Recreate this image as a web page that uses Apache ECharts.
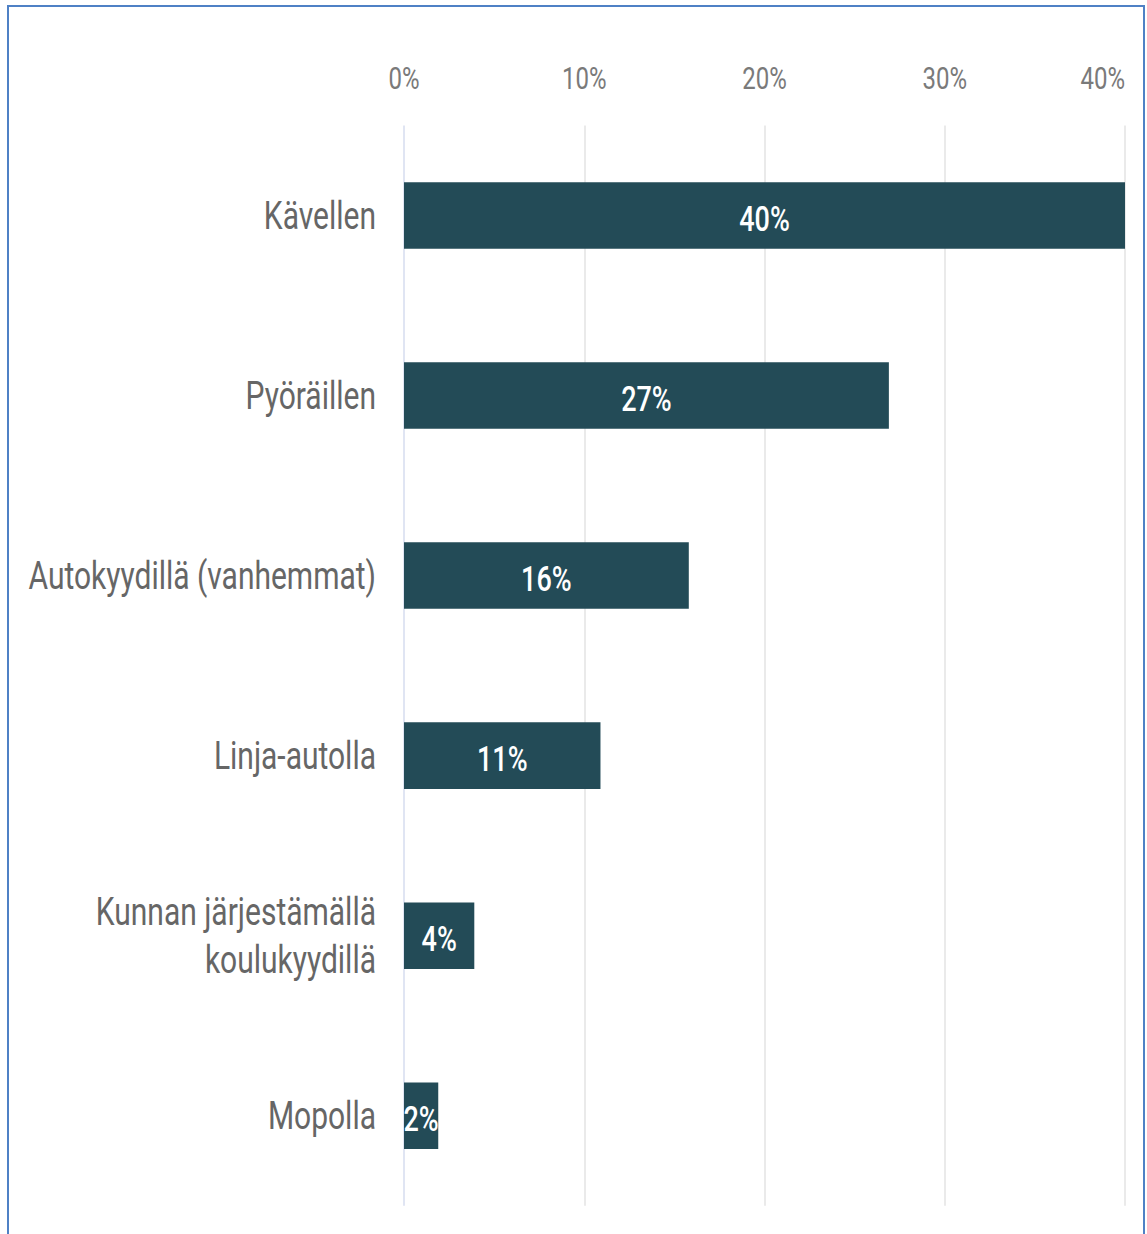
<!DOCTYPE html>
<html lang="fi">
<head>
    <meta charset="utf-8">
    <script src="https://cdn.jsdelivr.net/npm/echarts@6/dist/echarts.min.js"></script>
    <style>
        html, body { margin: 0; background: #fff; height: 1234px; overflow: hidden; }
        #wrap { position: relative; width: 1147px; height: 1234px; overflow: hidden; }
        #frame { position: absolute; left: 7px; top: 5px; width: 1134px; height: 1240px;
                 border: 2px solid #4f81c5; border-bottom: none; pointer-events: none; }
        /* the reference is stretched vertically, so draw short and scale */
        #chart { position: absolute; left: 0; top: 0; width: 1147px; height: 964px;
                 transform: scaleY(1.28); transform-origin: 0 0; }
    </style>
</head>
<body>
<div id="wrap">
    <div id="chart"></div>
    <div id="frame"></div>
</div>
<script type="text/javascript">
    // 数据
    var categories = ['Kävellen', 'Pyöräillen', 'Autokyydillä (vanhemmat)', 'Linja-autolla',
        'Kunnan järjestämällä\nkoulukyydillä', 'Mopolla'];
    var shares = [40, 26.9, 15.8, 10.9, 3.9, 1.9];
    var ticks = [0, 10, 20, 30, 40];

    var chart = echarts.init(document.getElementById('chart'), null, { renderer: 'svg' });
    var option = {
        animation: false,
        grid: { left: 404, right: 22, top: 98, bottom: 22 },
        xAxis: {
            type: 'value',
            position: 'top',
            min: ticks[0],
            max: ticks[ticks.length - 1],
            interval: ticks[1] - ticks[0],
            axisLine: { show: false },
            axisTick: { show: false },
            axisLabel: {
                formatter: '{value}%',
                color: '#7a7a7a',
                fontFamily: 'Roboto',
                fontSize: 24,
                margin: 25,
                alignMaxLabel: 'right'
            },
            splitLine: { lineStyle: { color: ['#d6dcef', '#e3e3e3', '#e3e3e3', '#e3e3e3', '#e3e3e3'], width: 1.5 } }
        },
        yAxis: {
            type: 'category',
            inverse: true,
            data: categories,
            axisLine: { show: false },
            axisTick: { show: false },
            axisLabel: {
                color: '#666666',
                fontFamily: 'Roboto',
                fontSize: 30,
                lineHeight: 37,
                margin: 28
            }
        },
        series: [{
            type: 'bar',
            data: shares,
            barWidth: 52,
            itemStyle: { color: '#234b57' },
            label: {
                show: true,
                position: 'inside',
                offset: [0, 3],
                color: '#fff',
                fontFamily: 'Roboto',
                fontWeight: 500,
                fontSize: 27,
                formatter: function (p) { return Math.round(p.value) + '%'; }
            }
        }]
    };
    chart.setOption(option);
</script>
</body>
</html>
